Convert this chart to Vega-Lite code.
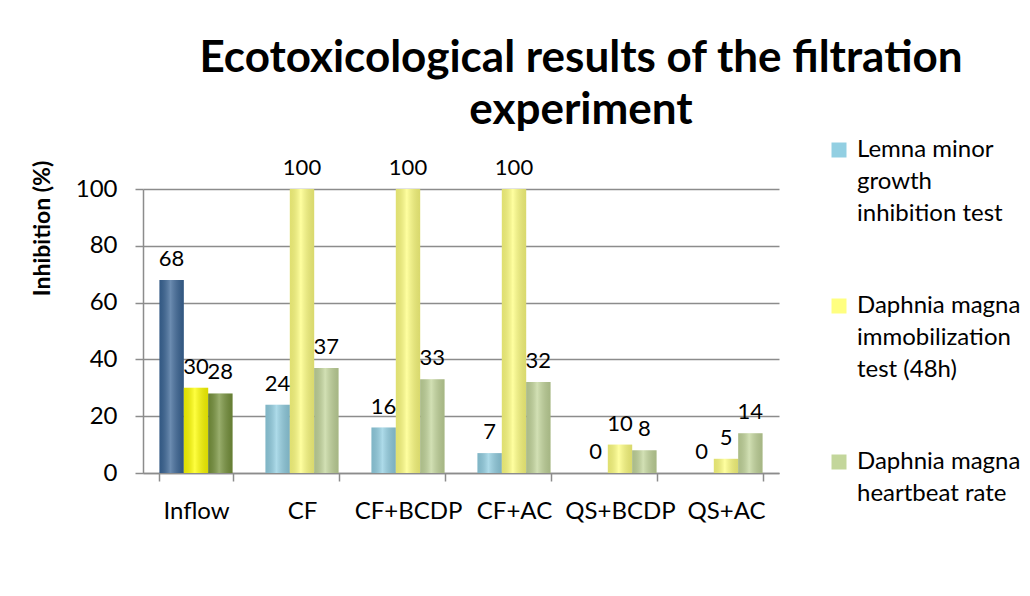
{
  "$schema": "https://vega.github.io/schema/vega-lite/v6.json",
  "width": 636,
  "height": 284,
  "autosize": {"type": "none"},
  "padding": {"left": 143, "top": 189, "right": 251, "bottom": 123},
  "background": "white",
  "title": {
    "text": ["Ecotoxicological results of the filtration", "experiment"],
    "font": "Lato",
    "fontSize": 44,
    "fontWeight": "bold",
    "color": "black",
    "anchor": "middle",
    "frame": "group",
    "dx": 120,
    "offset": 5,
    "lineHeight": 52
  },
  "data": {
    "values": [
      {"cat": "Inflow", "series": "L", "value": 68, "ck": "L1"},
      {"cat": "Inflow", "series": "D", "value": 30, "ck": "D1"},
      {"cat": "Inflow", "series": "H", "value": 28, "ck": "H1"},
      {"cat": "CF", "series": "L", "value": 24, "ck": "L"},
      {"cat": "CF", "series": "D", "value": 100, "ck": "D"},
      {"cat": "CF", "series": "H", "value": 37, "ck": "H"},
      {"cat": "CF+BCDP", "series": "L", "value": 16, "ck": "L"},
      {"cat": "CF+BCDP", "series": "D", "value": 100, "ck": "D"},
      {"cat": "CF+BCDP", "series": "H", "value": 33, "ck": "H"},
      {"cat": "CF+AC", "series": "L", "value": 7, "ck": "L"},
      {"cat": "CF+AC", "series": "D", "value": 100, "ck": "D"},
      {"cat": "CF+AC", "series": "H", "value": 32, "ck": "H"},
      {"cat": "QS+BCDP", "series": "L", "value": 0, "ck": "L"},
      {"cat": "QS+BCDP", "series": "D", "value": 10, "ck": "D"},
      {"cat": "QS+BCDP", "series": "H", "value": 8, "ck": "H"},
      {"cat": "QS+AC", "series": "L", "value": 0, "ck": "L"},
      {"cat": "QS+AC", "series": "D", "value": 5, "ck": "D"},
      {"cat": "QS+AC", "series": "H", "value": 14, "ck": "H"}
    ]
  },
  "encoding": {
    "x": {
      "field": "cat",
      "type": "nominal",
      "sort": ["Inflow", "CF", "CF+BCDP", "CF+AC", "QS+BCDP", "QS+AC"],
      "scale": {"paddingInner": 0.31, "paddingOuter": 0.155},
      "axis": {
        "title": null,
        "labelAngle": 0,
        "labelFont": "Lato",
        "labelFontSize": 24,
        "labelColor": "black",
        "labelPadding": 18,
        "tickBand": "extent",
        "tickSize": 8,
        "tickColor": "#8c8c8c",
        "tickWidth": 1.5,
        "domainColor": "#8c8c8c",
        "domainWidth": 1.5,
        "grid": false
      }
    },
    "xOffset": {
      "field": "series",
      "type": "nominal",
      "sort": ["L", "D", "H"],
      "scale": {"paddingInner": 0, "paddingOuter": 0}
    },
    "y": {
      "field": "value",
      "type": "quantitative",
      "scale": {"domain": [0, 100]},
      "axis": {
        "title": "Inhibition (%)",
        "titleFont": "Lato",
        "titleFontSize": 23,
        "titleFontWeight": "bold",
        "titleColor": "black",
        "titleAlign": "center",
        "titleBaseline": "middle",
        "titleX": -101,
        "titleY": 39,
        "values": [0, 20, 40, 60, 80, 100],
        "labelFont": "Lato",
        "labelFontSize": 24,
        "labelColor": "black",
        "labelPadding": 18,
        "tickSize": 8,
        "tickColor": "#8c8c8c",
        "tickWidth": 1.5,
        "domainColor": "#8c8c8c",
        "domainWidth": 1.5,
        "gridColor": "#8c8c8c",
        "gridWidth": 1.5
      }
    }
  },
  "layer": [
    {
      "mark": {"type": "bar"},
      "encoding": {
        "color": {
          "field": "ck",
          "type": "nominal",
          "scale": {
            "domain": ["L", "D", "H", "L1", "D1", "H1"],
            "range": ["#92cfe2", "#ffff80", "#c3d69b", "#3a6596", "#ffff00", "#77933c"]
          },
          "legend": {
            "orient": "none",
            "legendX": 684,
            "legendY": -51,
            "title": null,
            "values": ["L", "D", "H"],
            "labelExpr": "datum.label == 'L' ? ['Lemna minor', 'growth', 'inhibition test'] : datum.label == 'D' ? ['Daphnia magna', 'immobilization', 'test (48h)'] : ['Daphnia magna', 'heartbeat rate']",
            "symbolType": "square",
            "symbolSize": 225,
            "symbolStrokeWidth": 0,
            "labelFont": "Lato",
            "labelFontSize": 24,
            "labelColor": "black",
            "labelOffset": 6,
            "labelLimit": 400,
            "rowPadding": 68,
            "padding": 0
          }
        }
      }
    },
    {
      "mark": {
        "type": "bar",
        "fill": {
          "gradient": "linear",
          "x1": 0, "x2": 1, "y1": 0, "y2": 0,
          "stops": [
            {"offset": 0, "color": "rgba(0,0,0,0.12)"},
            {"offset": 0.45, "color": "rgba(255,255,255,0.25)"},
            {"offset": 1, "color": "rgba(0,0,0,0.15)"}
          ]
        }
      },
      "encoding": {}
    },
    {
      "mark": {"type": "text", "baseline": "alphabetic", "dy": -14, "font": "Lato", "fontSize": 22, "color": "black"},
      "encoding": {"text": {"field": "value", "type": "quantitative"}}
    }
  ],
  "config": {
    "view": {"stroke": null},
    "style": {"guide-label": {"lineHeight": 32}}
  }
}
